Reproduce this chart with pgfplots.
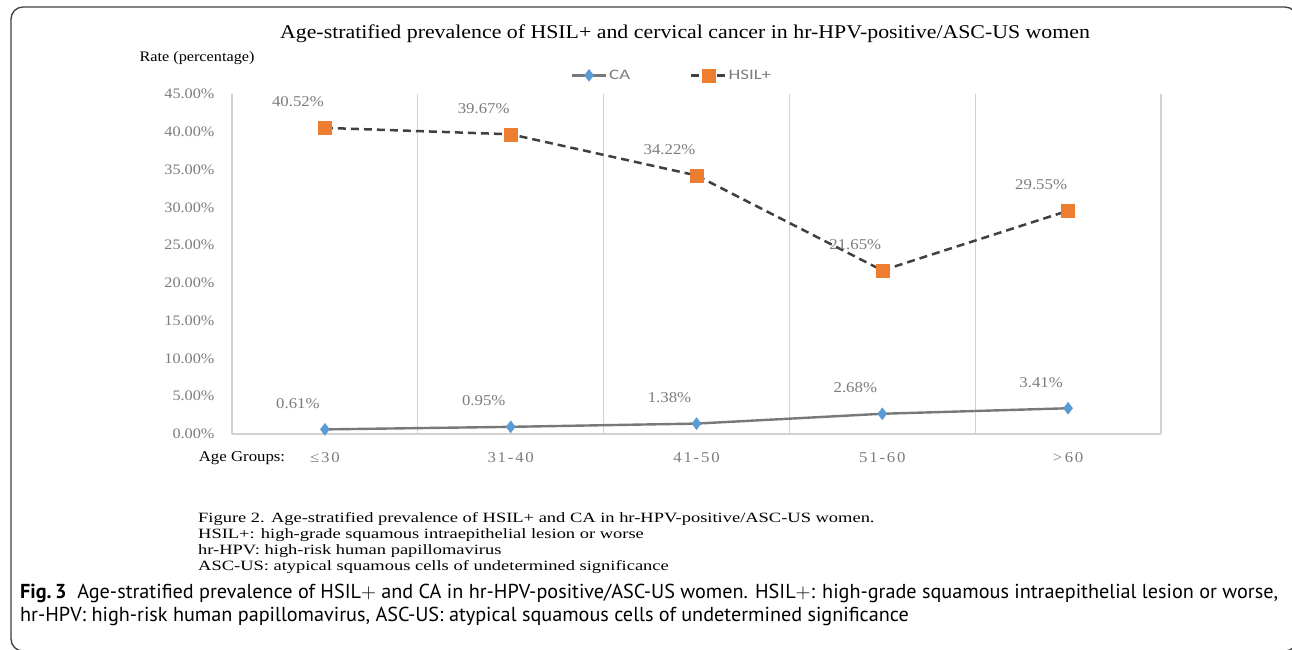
\documentclass[border=0pt]{standalone}
\usepackage{fontspec}
\setmainfont{Liberation Serif}
\newfontfamily\chartfont[FakeStretch=1.12]{Liberation Serif}
\newfontfamily\notefont[FakeStretch=1.3]{Liberation Serif}
\newfontfamily\catfont[FakeStretch=1.12,LetterSpace=12]{Liberation Serif}
\newfontfamily\capfont{PT Sans}
\newfontfamily\legfont[FakeStretch=1.3]{Carlito}
\usepackage{pgfplots}
\pgfplotsset{compat=1.18}
\definecolor{hsil}{RGB}{237,125,49}
\definecolor{ca}{RGB}{91,155,213}
\definecolor{lab}{RGB}{125,125,125}
\definecolor{gridc}{RGB}{210,210,210}
\definecolor{dashc}{RGB}{64,64,64}
\definecolor{cal}{RGB}{120,120,120}
\begin{document}
\begin{tikzpicture}[x=1pt,y=1pt]
\useasboundingbox (0,0) rectangle (1292,-649);
\fill[white] (0,0) rectangle (1292,-649);
\draw[line width=1.3pt, black!75, rounded corners=12pt] (1297,-651) -- (11,-651) -- (11,-7) -- (1297,-7) -- cycle;
\begin{axis}[
  at={(232pt,-434pt)}, anchor=south west, scale only axis,
  width=929pt, height=340pt,
  xmin=-0.5, xmax=4.5, ymin=0, ymax=45,
  axis x line*=bottom, axis y line*=left,
  x axis line style={draw=gridc, line width=1.3pt, -},
  y axis line style={draw=none},
  xtick={0,1,2,3,4},
  xticklabels={≤30,31-40,41-50,51-60,>\,60},
  minor xtick={-0.5,0.5,1.5,2.5,3.5,4.5},
  xminorgrids=true,
  minor grid style={gridc, line width=1.3pt},
  major tick length=0pt, minor tick length=0pt,
  ytick={0,5,10,15,20,25,30,35,40,45},
  /pgf/number format/assume math mode=true,
  yticklabel={\pgfmathprintnumber[fixed,fixed zerofill,precision=2]{\tick}\%},
  yticklabel style={font=\chartfont\fontsize{14.5}{16}\selectfont, text=lab, anchor=east, xshift=-14pt},
  xticklabel style={font=\catfont\fontsize{15}{17}\selectfont, text=lab, anchor=center, yshift=-24pt},
  clip=false,
  legend style={at={(0.4736,1.055)}, anchor=center, draw=none, fill=none,
    font=\legfont\fontsize{14.5}{16}\selectfont, text=lab,
    /tikz/every even column/.append style={column sep=58pt}},
  legend columns=2,
  legend image code/.code={\draw[mark repeat=2,mark phase=2] plot coordinates {(0pt,0pt) (17pt,0pt) (34pt,0pt)};},
  nodes near coords={\pgfmathprintnumber[fixed,fixed zerofill,precision=2]{\pgfplotspointmeta}\%},
  every node near coord/.append style={anchor=center, xshift=-27pt, yshift=26pt,
    font=\chartfont\fontsize{15}{17}\selectfont, text=lab},
]
\addplot[draw=cal, line width=2.4pt, mark=diamond*, mark size=6pt,
  mark options={fill=ca, draw=ca, line width=0.4pt, solid}]
  coordinates {(0,0.61) (1,0.95) (2,1.38) (3,2.68) (4,3.41)};
\addlegendentry{CA}
\addplot[draw=dashc, line width=2.5pt, dash pattern=on 8pt off 5pt, mark=square*, mark size=6.5pt,
  mark options={fill=hsil, draw=hsil, line width=0.4pt, solid}]
  coordinates {(0,40.52) (1,39.67) (2,34.22) (3,21.65) (4,29.55)};
\addlegendentry{HSIL+}
\end{axis}
\node[anchor=center] at (685,-34) {\chartfont\fontsize{19.5}{22}\selectfont Age-stratified prevalence of HSIL+ and cervical cancer in hr-HPV-positive/ASC-US women};
\node[anchor=center] at (197,-58) {\chartfont\fontsize{14.5}{17}\selectfont Rate (percentage)};
\node[anchor=center] at (242,-458) {\chartfont\fontsize{15}{17}\selectfont Age Groups:};
\node[anchor=north west, align=left, inner sep=0pt, font=\notefont\fontsize{14.2}{16}\selectfont] at (198,-512) {%
  Figure 2. Age-stratified prevalence of HSIL+ and CA in hr-HPV-positive/ASC-US women.\\
  HSIL+: high-grade squamous intraepithelial lesion or worse\\
  hr-HPV: high-risk human papillomavirus\\
  ASC-US: atypical squamous cells of undetermined significance};
\node[anchor=north west, align=left, inner sep=0pt, font=\capfont\fontsize{20.2}{23}\selectfont] at (20,-584) {%
  \textbf{Fig.\,3}\ \ Age-stratified prevalence of HSIL$+$ and CA in hr-HPV-positive/ASC-US women. HSIL$+$: high-grade squamous intraepithelial lesion or worse,\\
  hr-HPV: high-risk human papillomavirus, ASC-US: atypical squamous cells of undetermined significance};
\end{tikzpicture}
\end{document}
